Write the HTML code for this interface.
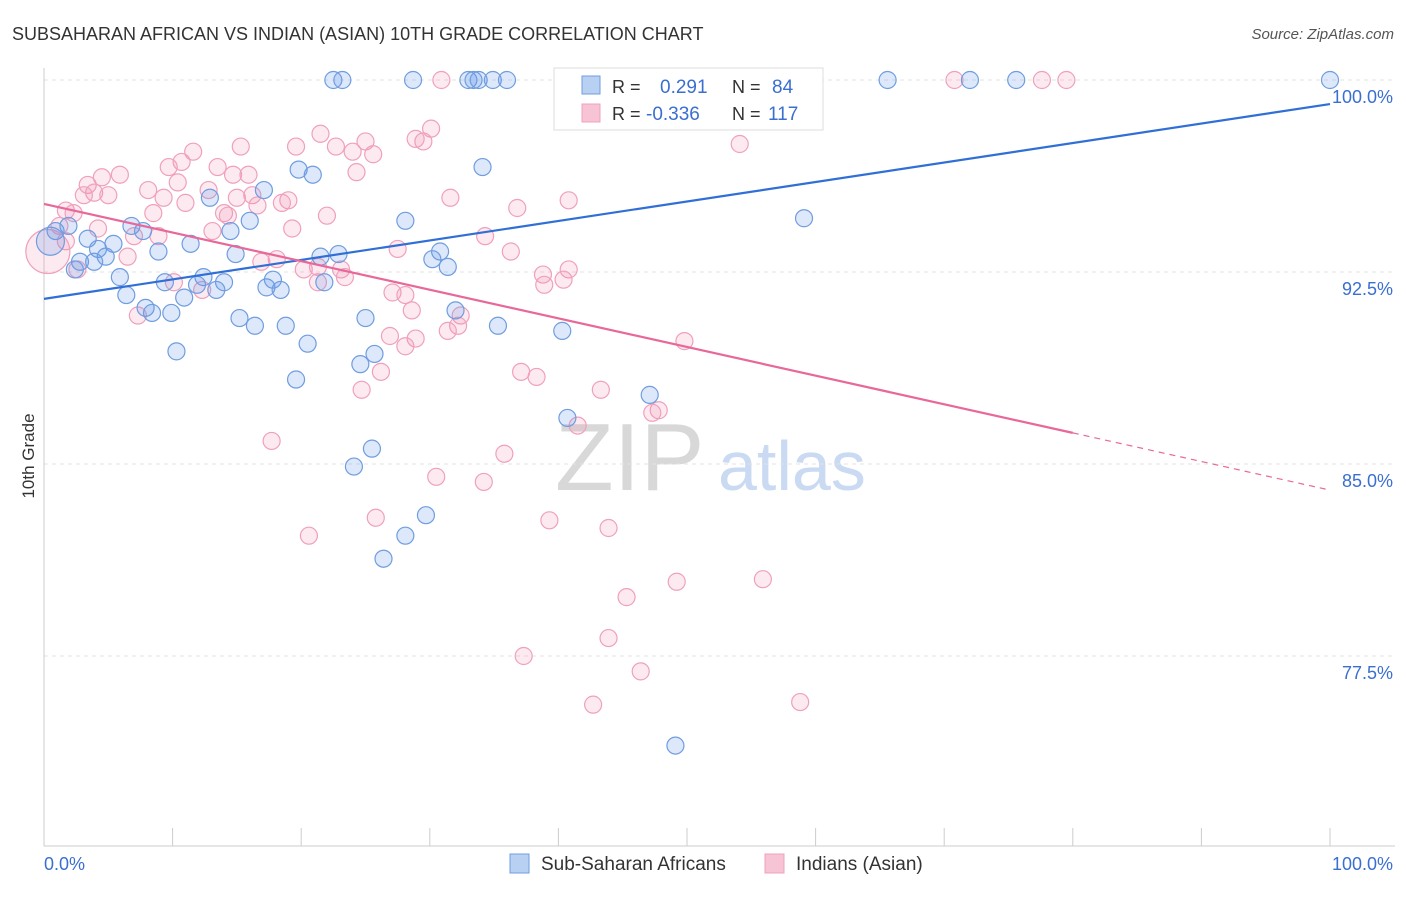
<!DOCTYPE html>
<html><head><meta charset="utf-8"><style>
body{margin:0;background:#fff;font-family:"Liberation Sans",sans-serif;}
svg text{font-family:"Liberation Sans",sans-serif;}
</style></head><body>
<svg id="chart" width="1406" height="892" xmlns="http://www.w3.org/2000/svg">
<text x="12" y="40" font-size="18" fill="#333">SUBSAHARAN AFRICAN VS INDIAN (ASIAN) 10TH GRADE CORRELATION CHART</text>
<text x="1394" y="39" font-size="15" fill="#555" font-style="italic" text-anchor="end">Source: ZipAtlas.com</text>
<text x="34" y="456" font-size="17" fill="#333" transform="rotate(-90 34 456)" text-anchor="middle">10th Grade</text>
<text x="555" y="490" font-size="96" fill="#d8d8d8" font-family="Liberation Serif">ZIP</text>
<text x="718" y="490" font-size="70" fill="#c9daf2">atlas</text>
<g id="grid"></g><g id="axes"></g><g id="pts"></g><g id="lines"></g>
<g>
<rect x="554" y="68" width="269" height="62" fill="#fff" stroke="#ddd"/>
<rect x="582" y="76" width="18" height="18" fill="#b8d0f2" stroke="#6f9de0"/>
<text x="612" y="93" font-size="18" fill="#333">R = </text><text x="660" y="93" font-size="19" fill="#3a6fd0">0.291</text>
<text x="732" y="93" font-size="18" fill="#333">N = </text><text x="772" y="93" font-size="19" fill="#3a6fd0">84</text>
<rect x="582" y="104" width="18" height="18" fill="#f6c4d4" stroke="#f0a0bc"/>
<text x="612" y="120" font-size="18" fill="#333">R = </text><text x="646" y="120" font-size="19" fill="#3a6fd0">-0.336</text>
<text x="732" y="120" font-size="18" fill="#333">N = </text><text x="768" y="120" font-size="19" fill="#3a6fd0">117</text>
</g>
<g>
<rect x="510" y="854" width="19" height="19" fill="#b8d0f2" stroke="#6f9de0"/>
<text x="541" y="870" font-size="19" fill="#333">Sub-Saharan Africans</text>
<rect x="765" y="854" width="19" height="19" fill="#f6c4d4" stroke="#f0a0bc"/>
<text x="796" y="870" font-size="19" fill="#333">Indians (Asian)</text>
</g>
</svg>
<script>
const yTicks=[100,92.5,85,77.5];
const yTickLabels=["100.0%","92.5%","85.0%","77.5%"];
const blueX=[22.5,23.2,28.7,33,33.4,33.8,34.9,36,52.4,65.6,72,75.6,100,55.5,34.1,19.8,20.9,17.1,12.9,28.1,59.1,6.8,1.9,0.9,7.7,14.5,16,3.4,5.4,11.4,4.2,8.9,14.9,21.5,22.9,30.8,4.8,2.8,3.9,30.2,31.4,2.4,5.9,12.4,9.4,14,11.9,17.3,18.4,13.4,21.8,17.8,6.4,10.9,7.9,8.4,9.9,15.2,25,32,16.4,18.8,35.3,40.3,20.5,10.3,25.7,24.6,19.6,47.1,40.7,25.5,24.1,29.7,28.1,26.4,49.1,0.5];
const blueY=[100,100,100,100,100,100,100,100,100,100,100,100,100,99.1,96.6,96.5,96.3,95.7,95.4,94.5,94.6,94.3,94.3,94.1,94.1,94.1,94.5,93.8,93.6,93.6,93.4,93.3,93.2,93.1,93.2,93.3,93.1,92.9,92.9,93,92.7,92.6,92.3,92.3,92.1,92.1,92,91.9,91.8,91.8,92.1,92.2,91.6,91.5,91.1,90.9,90.9,90.7,90.7,91,90.4,90.4,90.4,90.2,89.7,89.4,89.3,88.9,88.3,87.7,86.8,85.6,84.9,83,82.2,81.3,74,93.7];
const pinkX=[30.9,46,47,70.8,77.6,79.5,42.8,30.1,21.5,29.5,28.9,25,54.1,22.7,15.3,19.6,24,25.6,11.6,10.7,9.7,13.5,24.3,5.9,4.5,14.7,15.9,3.4,10.4,8.1,12.8,3.9,5,3.1,9.3,16.2,15,31.6,19,40.8,11,16.6,18.5,1.7,2.3,8.5,14,14.3,36.8,22,1.2,4.2,19.3,7,8.9,34.3,13.1,1.7,27.5,36.3,6.5,18.1,16.9,20.2,2.6,23.1,21.3,38.8,40.8,23.4,40.4,21.3,38.9,10.1,12.3,27.1,28.1,28.6,7.3,32.4,32.2,31.4,26.9,28.9,28.1,49.8,26.2,37.1,38.3,24.7,43.3,47.8,47.3,41.5,17.7,35.8,30.5,34.2,25.8,39.3,43.9,20.6,49.2,55.9,45.3,43.9,37.3,46.4,42.7,58.8,0.3];
const pinkY=[100,100,100,100,100,100,98.8,98.1,97.9,97.6,97.7,97.6,97.5,97.4,97.4,97.4,97.2,97.1,97.2,96.8,96.6,96.6,96.4,96.3,96.2,96.3,96.3,95.9,96,95.7,95.7,95.6,95.5,95.5,95.4,95.5,95.4,95.4,95.3,95.3,95.2,95.1,95.2,94.9,94.8,94.8,94.8,94.7,95,94.7,94.3,94.2,94.2,93.9,93.9,93.9,94.1,93.7,93.4,93.3,93.1,93,92.9,92.6,92.6,92.6,92.7,92.4,92.6,92.3,92.2,92.1,92,92.1,91.8,91.7,91.6,91,90.8,90.8,90.4,90.2,90,89.9,89.6,89.8,88.6,88.6,88.4,87.9,87.9,87.1,87,86.5,85.9,85.4,84.5,84.3,82.9,82.8,82.5,82.2,80.4,80.5,79.8,78.2,77.5,76.9,75.6,75.7,93.3];
const blueTrend=[91.45,99.06];
const pinkTrend=[95.16,83.98];
const pinkSolidEnd=80;

const X=v=>44+v*12.86, Y=v=>80+(100-v)*25.6;
const NS="http://www.w3.org/2000/svg";
function mk(tag,attrs,parent){const e=document.createElementNS(NS,tag);for(const k in attrs)e.setAttribute(k,attrs[k]);document.getElementById(parent).appendChild(e);return e;}
yTicks.forEach((t,i)=>{
 const l=mk('line',{x1:44,x2:1395,y1:Y(t),y2:Y(t),stroke:'#e3e3e3','stroke-dasharray':'4,4'},'grid');
 
 
 const tx=mk('text',{x:1393,y:Y(t)+23,'font-size':18,fill:'#3a6fd0','text-anchor':'end'},'grid');
 tx.textContent=yTickLabels[i];
 
 
});
const ax=mk('line',{x1:44,x2:1395,y1:846,y2:846,stroke:'#ccc'},'axes');


const ay=mk('line',{x1:44,x2:44,y1:68,y2:846,stroke:'#ccc'},'axes');


for(let i=0;i<=10;i++){const t=mk('line',{x1:X(i*10),x2:X(i*10),y1:828,y2:846,stroke:'#ccc'},'axes');
 
 }
const xl0=mk('text',{x:44,y:870,'font-size':18,fill:'#3a6fd0'},'axes');xl0.textContent='0.0%';


const xl1=mk('text',{x:1393,y:870,'font-size':18,fill:'#3a6fd0','text-anchor':'end'},'axes');xl1.textContent='100.0%';


pinkX.forEach((x,i)=>{const big=i===pinkX.length-1;
 const c=mk('circle',{cx:X(x),cy:Y(pinkY[i]),r:big?22:8.5,fill:'rgba(240,140,170,0.18)',stroke:'#f0a0bc','stroke-width':1.2},'pts');
 
 });
blueX.forEach((x,i)=>{const big=i===blueX.length-1;
 const c=mk('circle',{cx:X(x),cy:Y(blueY[i]),r:big?14:8.5,fill:'rgba(100,150,230,0.22)',stroke:'#6f9de0','stroke-width':1.2},'pts');
 
 });
const bl=mk('line',{x1:X(0),y1:Y(blueTrend[0]),x2:X(100),y2:Y(blueTrend[1]),stroke:'#2f6fd6','stroke-width':2.2},'lines');


const pm=pinkTrend[0]+(pinkTrend[1]-pinkTrend[0])*pinkSolidEnd/100;
const pl=mk('line',{x1:X(0),y1:Y(pinkTrend[0]),x2:X(pinkSolidEnd),y2:Y(pm),stroke:'#e8689a','stroke-width':2.2},'lines');


const pd=mk('line',{x1:X(pinkSolidEnd),y1:Y(pm),x2:X(100),y2:Y(pinkTrend[1]),stroke:'#e8689a','stroke-width':1.2,'stroke-dasharray':'6,5'},'lines');


</script>
</body></html>
